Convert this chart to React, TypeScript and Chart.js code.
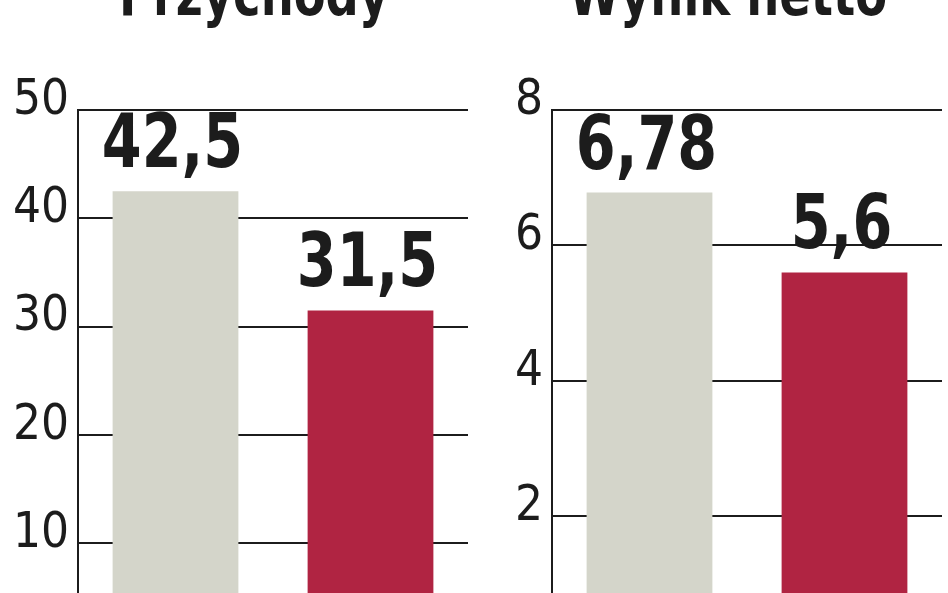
import React, { useEffect, useRef } from 'react'
import Chart, { ChartConfiguration, Plugin } from 'chart.js/auto'

// data
const categories = ['2008', '2009']
const revenueTitle = 'Przychody'
const revenueValues = [42.5, 31.5]
const revenueMax = 50
const revenueStep = 10
const netTitle = 'Wynik netto'
const netValues = [6.78, 5.6]
const netMax = 8
const netStep = 2

const barColors = ['#d4d5ca', '#b02442']
const inkColor = '#1c1c1c'
const NARROW =
  '"Liberation Sans Narrow", "DejaVu Sans Condensed", "Roboto Condensed", "Liberation Sans", sans-serif'

// page is shifted up so the titles are cut off like in the original
const TOP_SHIFT = 60
// the original uses a condensed face, squeeze the bold text a bit
const SQUEEZE = 0.86

const drawSqueezed = (ctx: CanvasRenderingContext2D, text: string, x: number, y: number) => {
  ctx.save()
  ctx.translate(x, y)
  ctx.scale(SQUEEZE, 1)
  ctx.fillText(text, 0, 0)
  ctx.restore()
}

const valueLabels: Plugin<'bar'> = {
  id: 'valueLabels',
  afterDatasetsDraw(chart) {
    const { ctx } = chart
    const meta = chart.getDatasetMeta(0)
    const data = chart.data.datasets[0].data as number[]
    ctx.save()
    ctx.fillStyle = inkColor
    ctx.font = `bold 74px ${NARROW}`
    ctx.textAlign = 'center'
    ctx.textBaseline = 'alphabetic'
    meta.data.forEach((bar, i) => {
      const text = String(data[i]).replace('.', ',')
      drawSqueezed(ctx, text, bar.x - 3, bar.y - 24)
    })
    ctx.restore()
  },
}

const panelTitle = (text: string): Plugin<'bar'> => ({
  id: 'panelTitle',
  afterDraw(chart) {
    const { ctx } = chart
    ctx.save()
    ctx.fillStyle = inkColor
    ctx.font = `bold 60px ${NARROW}`
    ctx.textAlign = 'center'
    ctx.textBaseline = 'alphabetic'
    drawSqueezed(ctx, text, 254, TOP_SHIFT + 15)
    ctx.restore()
  },
})

interface IBarPanel {
  title: string
  values: number[]
  max: number
  step: number
}

const BarPanel: React.FC<IBarPanel> = ({ title, values, max, step }) => {
  const chartRef = useRef<HTMLCanvasElement | null>(null)
  const chartInstance = useRef<Chart | null>(null)

  useEffect(() => {
    if (!chartRef.current) return
    if (chartInstance.current) chartInstance.current.destroy()
    const ctx = chartRef.current.getContext('2d')
    if (!ctx) return

    const config: ChartConfiguration<'bar'> = {
      type: 'bar',
      data: {
        labels: categories,
        datasets: [
          {
            data: values,
            backgroundColor: barColors,
            borderWidth: 0,
            barPercentage: 0.645,
            categoryPercentage: 1,
          },
        ],
      },
      options: {
        responsive: true,
        maintainAspectRatio: false,
        animation: false,
        layout: {
          padding: { left: 0, right: 6, top: TOP_SHIFT + 110, bottom: 0 },
        },
        plugins: {
          legend: { display: false },
          tooltip: { enabled: false },
          title: { display: false },
        },
        scales: {
          x: {
            display: false,
          },
          y: {
            min: 0,
            max,
            ticks: {
              stepSize: step,
              color: inkColor,
              padding: 9,
              labelOffset: -9,
              font: { family: NARROW, size: 49 },
            },
            grid: {
              color: inkColor,
              lineWidth: 2,
              drawTicks: false,
            },
            border: {
              display: true,
              color: inkColor,
              width: 2,
            },
            afterFit(scale) {
              scale.width = 78
            },
          },
        },
      },
      plugins: [valueLabels, panelTitle(title)],
    }

    chartInstance.current = new Chart(ctx, config)

    return () => {
      if (chartInstance.current) chartInstance.current.destroy()
    }
  }, [title, values, max, step])

  return (
    <div style={{ position: 'relative', width: 474, height: 750 }}>
      <canvas ref={chartRef} />
    </div>
  )
}

const App: React.FC = () => {
  return (
    <div
      style={{
        position: 'fixed',
        left: 0,
        top: 0,
        width: 948,
        height: 593,
        overflow: 'hidden',
        background: '#ffffff',
      }}
    >
      <div style={{ position: 'absolute', left: 0, top: -TOP_SHIFT, display: 'flex' }}>
        <BarPanel title={revenueTitle} values={revenueValues} max={revenueMax} step={revenueStep} />
        <BarPanel title={netTitle} values={netValues} max={netMax} step={netStep} />
      </div>
    </div>
  )
}

export default App
